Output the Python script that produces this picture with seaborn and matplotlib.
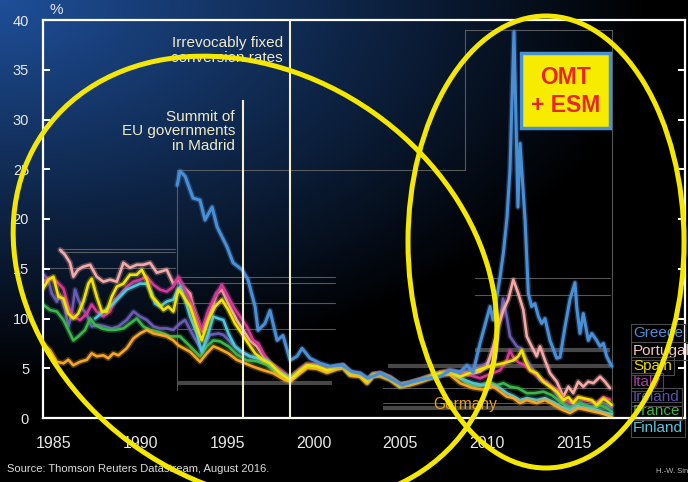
import numpy as np
import pandas as pd
import matplotlib
matplotlib.use("Agg")
import matplotlib.pyplot as plt
import matplotlib.patheffects as pe
from matplotlib.patches import Ellipse, Rectangle
import seaborn as sns

# 10-year government bond yields, %
greece_x = [1992.62, 1992.79, 1993.08, 1993.54, 1993.94, 1994.23, 1994.64, 1994.93, 1995.50, 1995.85,
            1996.37, 1996.71, 1997.12, 1997.29, 1997.69, 1997.98, 1998.39, 1998.73, 1999.14, 1999.54,
            1999.83, 2000.29, 2000.87, 2001.45, 2002.14, 2002.71, 2003.18, 2003.64, 2004.33, 2004.91,
            2005.60, 2006.24, 2007.04, 2007.79, 2008.37, 2008.95, 2009.35, 2009.70, 2010.10, 2010.68,
            2010.85, 2011.26, 2011.45, 2011.66, 2011.83, 2012.06, 2012.29, 2012.41, 2012.70, 2012.89,
            2013.08, 2013.27, 2013.47, 2013.66, 2013.85, 2014.14, 2014.53, 2014.72, 2015.01, 2015.29,
            2015.58, 2015.68, 2015.87, 2016.06, 2016.35, 2016.55, 2016.83, 2017.03, 2017.22, 2017.41,
            2017.70]
greece_y = [23.4, 24.8, 24.3, 22.1, 21.9, 19.9, 21.2, 19.2, 17.2, 15.6,
            14.9, 13.9, 11.2, 8.8, 9.5, 10.8, 7.8, 8.3, 5.8, 6.2,
            7.0, 6.0, 5.5, 5.2, 5.3, 4.65, 4.5, 4.0, 4.5, 4.0,
            3.3, 3.65, 4.0, 4.15, 4.8, 4.6, 5.3, 4.6, 7.5, 11.2,
            9.85, 14.2, 16.6, 20.2, 25.0, 38.8, 21.2, 27.6, 19.9, 12.5,
            11.2, 11.5, 10.2, 9.5, 10.0, 7.8, 6.0, 6.1, 9.2, 11.9,
            13.6, 11.2, 8.5, 10.5, 7.8, 8.5, 7.8, 7.2, 7.5, 6.2,
            5.2]

portugal_x = [1985.87, 1986.15, 1986.44, 1986.63, 1986.90, 1987.19, 1987.60, 1987.98, 1988.36, 1988.75,
              1989.14, 1989.52, 1989.90, 1990.29, 1990.67, 1991.06, 1991.45, 1992.02, 1992.40, 1992.69,
              1992.96, 1993.37, 1993.54, 1993.94, 1994.12, 1994.52, 1994.91, 1995.20, 1995.58, 1996.06,
              1996.44, 1996.83, 1997.22, 1997.60, 1997.98, 1998.56, 1999.14, 1999.71, 2000.12, 2000.70,
              2001.27, 2001.85, 2002.20, 2002.60, 2003.18, 2003.58, 2003.93, 2004.33, 2004.91, 2005.48,
              2006.06, 2006.64, 2007.22, 2007.79, 2008.37, 2008.95, 2009.52, 2010.10, 2010.49, 2010.87,
              2011.16, 2011.45, 2011.73, 2012.02, 2012.31, 2012.60, 2012.80, 2013.08, 2013.37, 2013.56,
              2013.85, 2014.14, 2014.53, 2014.91, 2015.20, 2015.48, 2015.77, 2016.06, 2016.35, 2016.64,
              2017.03, 2017.31, 2017.60]
portugal_y = [16.9, 16.4, 15.6, 14.2, 14.9, 15.2, 15.4, 14.2, 13.7, 13.9,
              13.7, 15.6, 15.1, 15.4, 15.4, 15.6, 14.6, 14.9, 13.5, 13.9,
              13.2, 12.5, 11.2, 9.2, 8.7, 10.5, 12.5, 12.9, 11.5, 9.85,
              8.8, 7.8, 7.2, 6.2, 5.5, 4.8, 4.0, 4.9, 5.4, 5.3,
              4.9, 5.2, 5.3, 4.6, 4.4, 3.8, 4.4, 4.5, 4.1, 3.35,
              3.55, 3.85, 4.2, 4.55, 4.75, 4.5, 4.4, 4.65, 5.15, 7.2,
              9.2, 10.85, 11.9, 13.9, 12.5, 10.85, 8.2, 7.2, 6.2, 7.2,
              5.8, 4.5, 3.65, 2.15, 3.15, 2.5, 3.65, 3.15, 3.65, 3.5,
              4.15, 3.65, 3.0]

spain_x = [1984.88, 1985.19, 1985.48, 1985.77, 1986.06, 1986.34, 1986.63, 1986.92, 1987.21, 1987.50,
           1987.69, 1987.98, 1988.27, 1988.56, 1988.85, 1989.14, 1989.52, 1989.90, 1990.29, 1990.58,
           1990.87, 1991.16, 1991.45, 1991.83, 1992.11, 1992.40, 1992.69, 1992.89, 1993.37, 1993.75,
           1994.04, 1994.42, 1994.81, 1995.20, 1995.58, 1995.96, 1996.35, 1996.73, 1997.12, 1997.60,
           1997.98, 1998.56, 1999.14, 1999.71, 2000.12, 2000.70, 2001.27, 2001.85, 2002.20, 2002.60,
           2003.18, 2003.58, 2003.93, 2004.33, 2004.91, 2005.48, 2006.06, 2006.64, 2007.22, 2007.79,
           2008.37, 2008.95, 2009.91, 2010.87, 2011.45, 2012.02, 2012.31, 2012.51, 2012.70, 2012.99,
           2013.37, 2013.75, 2014.14, 2014.53, 2014.91, 2015.20, 2015.48, 2015.77, 2016.16, 2016.55,
           2016.83, 2017.22, 2017.51, 2017.70]
spain_y = [13.0, 13.9, 14.2, 12.2, 12.0, 10.5, 10.0, 10.5, 11.7, 13.5,
           14.0, 12.2, 10.7, 10.7, 12.2, 13.2, 13.5, 14.4, 14.4, 14.9,
           13.9, 12.2, 11.7, 10.85, 11.2, 10.7, 12.9, 12.5, 11.2, 9.2,
           7.8, 9.85, 11.2, 11.9, 10.85, 9.5, 8.5, 7.5, 6.5, 5.8,
           5.5, 4.5, 3.8, 4.75, 5.3, 5.2, 4.8, 5.15, 5.25, 4.5,
           4.35, 3.7, 4.35, 4.45, 4.0, 3.3, 3.5, 3.8, 4.15, 4.5,
           4.6, 4.15, 4.8, 5.3, 5.5, 5.8, 6.2, 6.8, 5.8, 4.8,
           4.5, 3.65, 3.15, 2.65, 1.8, 2.1, 1.5, 2.1, 1.95, 1.8,
           1.3, 1.95, 1.6, 1.3]

italy_x = [1984.88, 1985.29, 1985.68, 1986.06, 1986.34, 1986.63, 1987.02, 1987.41, 1987.69, 1987.98,
           1988.36, 1988.75, 1989.04, 1989.33, 1989.71, 1990.10, 1990.48, 1990.87, 1991.25, 1991.64,
           1992.02, 1992.40, 1992.69, 1992.96, 1993.37, 1993.66, 1994.04, 1994.42, 1994.81, 1995.20,
           1995.48, 1995.87, 1996.25, 1996.64, 1997.02, 1997.31, 1997.60, 1997.98, 1998.56, 1999.14,
           1999.71, 2000.12, 2000.70, 2001.27, 2001.85, 2002.20, 2002.60, 2003.18, 2003.58, 2003.93,
           2004.33, 2004.91, 2005.48, 2006.06, 2006.64, 2007.22, 2007.79, 2008.37, 2008.95, 2009.52,
           2010.10, 2010.68, 2011.26, 2011.64, 2011.83, 2012.02, 2012.31, 2012.70, 2013.08, 2013.47,
           2013.95, 2014.53, 2014.91, 2015.39, 2015.77, 2016.16, 2016.83, 2017.22, 2017.60]
italy_y = [13.8, 14.0, 13.7, 13.0, 11.2, 10.2, 9.85, 10.5, 11.4, 10.7,
           10.2, 10.7, 11.9, 12.4, 13.2, 13.7, 13.9, 14.2, 13.4, 12.9,
           12.7, 13.2, 14.2, 13.2, 11.9, 10.5, 8.85, 10.85, 12.2, 13.4,
           12.5, 11.2, 10.2, 9.2, 7.8, 7.5, 6.5, 5.5, 4.8, 4.0,
           4.85, 5.4, 5.3, 4.9, 5.2, 5.3, 4.55, 4.4, 3.75, 4.4,
           4.5, 4.05, 3.35, 3.55, 3.85, 4.2, 4.55, 4.75, 4.5, 4.3,
           4.0, 4.4, 4.8, 5.8, 6.8, 6.1, 5.6, 5.3, 4.65, 4.15,
           3.5, 2.85, 1.85, 1.5, 2.1, 1.8, 1.5, 2.1, 1.85]

ireland_x = [1984.88, 1985.19, 1985.39, 1985.68, 1985.87, 1986.15, 1986.34, 1986.54, 1986.73, 1986.92,
             1987.21, 1987.41, 1987.69, 1988.08, 1988.46, 1988.85, 1989.23, 1989.71, 1990.10, 1990.48,
             1990.87, 1991.25, 1991.64, 1992.02, 1992.40, 1992.79, 1993.08, 1993.57, 1994.04, 1994.52,
             1995.00, 1995.29, 1995.77, 1996.25, 1996.83, 1997.41, 1997.98, 1998.56, 1999.14, 1999.71,
             2000.12, 2000.70, 2001.27, 2001.85, 2002.20, 2002.60, 2003.18, 2003.58, 2003.93, 2004.33,
             2004.91, 2005.48, 2006.06, 2006.64, 2007.22, 2007.79, 2008.37, 2008.95, 2009.81, 2010.50,
             2010.85, 2011.14, 2011.43, 2011.66, 2011.83, 2012.22, 2012.47, 2012.80, 2013.18, 2013.56,
             2013.95, 2014.33, 2014.72, 2015.10, 2015.39, 2015.87, 2016.16, 2016.64, 2017.03, 2017.41,
             2017.70]
ireland_y = [14.5, 13.9, 12.5, 11.7, 12.4, 10.85, 9.2, 10.5, 12.9, 11.9,
             10.85, 10.4, 9.2, 9.35, 9.2, 9.0, 9.2, 9.85, 10.7, 10.2,
             9.85, 9.2, 9.0, 9.0, 8.85, 9.5, 9.85, 8.2, 6.8, 8.35,
             8.5, 8.35, 7.5, 6.65, 6.2, 5.85, 5.15, 4.5, 4.0, 4.7,
             5.25, 5.15, 4.75, 5.1, 5.2, 4.45, 4.35, 3.65, 4.35, 4.4,
             4.0, 3.3, 3.5, 3.8, 4.15, 4.5, 4.7, 4.6, 5.0, 5.5,
             6.5, 8.5, 12.0, 10.0, 8.2, 7.2, 7.0, 5.85, 4.8, 3.8,
             3.65, 2.85, 1.85, 1.3, 1.15, 1.65, 1.3, 1.15, 1.65, 1.3,
             1.0]

france_x = [1984.88, 1985.29, 1985.68, 1986.06, 1986.34, 1986.63, 1986.92, 1987.31, 1987.60, 1987.89,
            1988.27, 1988.65, 1989.04, 1989.52, 1989.90, 1990.29, 1990.67, 1991.06, 1991.45, 1991.83,
            1992.21, 1992.60, 1992.79, 1993.37, 1993.94, 1994.33, 1994.71, 1995.10, 1995.58, 1996.06,
            1996.64, 1997.22, 1997.79, 1998.37, 1999.04, 1999.71, 2000.12, 2000.70, 2001.27, 2001.85,
            2002.20, 2002.60, 2003.18, 2003.58, 2003.93, 2004.33, 2004.91, 2005.48, 2006.06, 2006.64,
            2007.22, 2007.79, 2008.37, 2008.95, 2009.52, 2010.10, 2010.58, 2011.06, 2011.45, 2011.83,
            2012.31, 2012.80, 2013.27, 2013.75, 2014.24, 2014.72, 2015.10, 2015.48, 2015.87, 2016.35,
            2016.64, 2017.03, 2017.41, 2017.70]
france_y = [11.4, 10.85, 10.7, 9.85, 8.85, 7.8, 8.2, 8.85, 10.0, 9.35,
            9.0, 8.85, 8.85, 9.0, 9.5, 10.0, 9.2, 8.85, 8.7, 8.5,
            8.2, 8.2, 8.2, 7.2, 6.2, 7.2, 7.8, 7.7, 7.2, 6.4,
            5.8, 5.7, 5.35, 4.5, 4.0, 4.65, 5.2, 5.1, 4.7, 5.05,
            5.15, 4.4, 4.3, 3.6, 4.3, 4.35, 3.95, 3.25, 3.45, 3.75,
            4.1, 4.45, 4.55, 4.0, 3.3, 3.2, 3.65, 3.3, 3.5, 3.15,
            3.0, 2.5, 2.5, 2.65, 2.3, 1.65, 1.15, 1.0, 1.5, 1.15,
            1.0, 1.3, 1.0, 0.65]

finland_x = [1987.89, 1988.94, 1989.71, 1990.48, 1990.87, 1991.16, 1991.35, 1991.64, 1992.02, 1992.40,
             1992.69, 1992.79, 1993.08, 1993.37, 1993.75, 1994.04, 1994.42, 1994.71, 1995.00, 1995.29,
             1995.58, 1995.96, 1996.35, 1996.83, 1997.31, 1997.79, 1998.37, 1998.95, 1999.14, 1999.71,
             2000.12, 2000.70, 2001.27, 2001.85, 2002.20, 2002.60, 2003.18, 2003.58, 2003.93, 2004.33,
             2004.91, 2005.48, 2006.06, 2006.64, 2007.22, 2007.79, 2008.37, 2008.95, 2009.70, 2010.29,
             2010.87, 2011.26, 2011.64, 2012.02, 2012.41, 2012.80, 2013.37, 2013.85, 2014.33, 2014.82,
             2015.29, 2015.77, 2016.16, 2016.64, 2017.03, 2017.41, 2017.70]
finland_y = [10.0, 11.5, 12.9, 13.5, 13.5, 12.5, 11.5, 11.2, 11.7, 11.9,
             13.0, 13.2, 11.9, 10.2, 8.5, 6.65, 8.5, 10.2, 10.0, 9.85,
             8.5, 7.2, 6.65, 6.2, 6.0, 5.8, 4.8, 4.15, 3.9, 4.6,
             5.15, 5.05, 4.65, 5.0, 5.1, 4.35, 4.25, 3.55, 4.25, 4.3,
             3.9, 3.2, 3.4, 3.7, 4.05, 4.4, 4.5, 4.0, 3.5, 3.3,
             3.3, 3.0, 2.5, 2.2, 1.8, 2.0, 1.8, 2.0, 1.6, 1.1,
             0.8, 1.2, 1.0, 0.9, 0.7, 0.5, 0.4]

germany_x = [1984.88, 1985.29, 1985.68, 1986.06, 1986.34, 1986.63, 1987.02, 1987.41, 1987.69, 1987.98,
             1988.36, 1988.65, 1988.94, 1989.23, 1989.71, 1990.10, 1990.48, 1990.87, 1991.25, 1991.64,
             1992.02, 1992.40, 1992.69, 1993.37, 1993.94, 1994.33, 1994.71, 1995.00, 1995.58, 1996.06,
             1996.54, 1997.02, 1997.60, 1998.17, 1998.85, 1999.14, 1999.71, 2000.12, 2000.70, 2001.27,
             2001.85, 2002.20, 2002.60, 2003.18, 2003.58, 2003.93, 2004.33, 2004.91, 2005.48, 2006.06,
             2006.64, 2007.22, 2007.79, 2008.37, 2008.95, 2009.70, 2010.29, 2010.87, 2011.26, 2011.64,
             2012.02, 2012.41, 2012.80, 2013.37, 2013.85, 2014.33, 2014.82, 2015.29, 2015.77, 2016.16,
             2016.64, 2017.03, 2017.41, 2017.70]
germany_y = [7.5, 6.8, 5.65, 5.5, 5.85, 5.3, 5.65, 5.85, 6.5, 6.2,
             6.3, 6.0, 6.5, 6.3, 7.0, 8.0, 8.5, 8.85, 8.5, 8.35,
             8.2, 7.8, 7.3, 6.65, 5.65, 6.5, 7.2, 7.0, 6.5, 5.85,
             5.5, 5.15, 4.8, 4.5, 3.8, 3.65, 4.5, 5.05, 4.95, 4.55,
             4.9, 5.0, 4.25, 4.15, 3.45, 4.15, 4.2, 3.8, 3.1, 3.3,
             3.6, 3.95, 4.3, 4.35, 3.5, 3.0, 2.85, 3.15, 2.65, 2.15,
             2.0, 1.5, 1.8, 1.5, 1.8, 1.35, 0.85, 0.5, 1.0, 0.85,
             0.65, 0.5, 0.3, 0.1]

countries = ["Ireland", "Portugal", "Italy", "France", "Finland", "Germany", "Spain", "Greece"]
series = {
    "Greece": (greece_x, greece_y), "Portugal": (portugal_x, portugal_y),
    "Spain": (spain_x, spain_y), "Italy": (italy_x, italy_y),
    "Ireland": (ireland_x, ireland_y), "France": (france_x, france_y),
    "Finland": (finland_x, finland_y), "Germany": (germany_x, germany_y),
}
colors = {"Greece": "#4a8fd6", "Portugal": "#f4a9a8", "Spain": "#f2e300", "Italy": "#d23a96",
          "Ireland": "#6a5cb4", "France": "#3cb54a", "Finland": "#4fc6d8", "Germany": "#f5a623"}
label_colors = {"Greece": "#4a8fd6", "Portugal": "#f2c6c6", "Spain": "#e8dc00", "Italy": "#a8409c",
                "Ireland": "#5852aa", "France": "#3cb54a", "Finland": "#58c6de"}
legend_order = ["Greece", "Portugal", "Spain", "Italy", "Ireland", "France", "Finland"]

madrid_year = 1996.43
euro_year = 1999.14

sns.set_theme(style="dark")
plt.rcParams['font.family'] = ['Liberation Sans', 'DejaVu Sans']

W, H = 688, 482
fig = plt.figure(figsize=(W / 100, H / 100), dpi=100)

# background: blue glow in the upper left fading to black
bg = fig.add_axes([0, 0, 1, 1], zorder=0)
yy, xx = np.mgrid[0:H, 0:W]
k = 1 - np.clip(np.sqrt((xx / 650.0) ** 2 + (yy / 380.0) ** 2), 0, 1)
bg.imshow(np.dstack([0.12 * k, 0.31 * k, 0.60 * k]), extent=[0, W, H, 0], aspect='auto')
bg.set_xlim(0, W); bg.set_ylim(H, 0); bg.axis('off')

# faint grey leftovers of the pasted chart frames
art = fig.add_axes([0, 0, 1, 1], zorder=1)
art.patch.set_alpha(0)
art.set_xlim(0, W); art.set_ylim(H, 0); art.axis('off')
thin = dict(color='#6b6b6b', lw=0.8, alpha=0.8)
for y0, x0, x1 in [(249, 60, 175), (252, 60, 175), (268, 42, 175), (277, 178, 335), (283, 178, 335),
                   (303, 178, 335), (329, 178, 335), (170, 177, 465), (30, 465, 612),
                   (278, 475, 610), (295, 475, 610), (388, 383, 610), (403, 383, 610)]:
    art.plot([x0, x1], [y0, y0], **thin)
for x0, y0, y1 in [(177, 170, 390), (465, 30, 170), (612, 30, 418)]:
    art.plot([x0, x0], [y0, y1], **thin)
thick = dict(color='#505050', lw=3, alpha=0.9, solid_capstyle='butt')
for y0, x0, x1 in [(383, 178, 332), (350, 475, 610), (366, 388, 610), (408, 383, 610)]:
    art.plot([x0, x1], [y0, y0], **thick)

# main chart
ax = fig.add_axes([43 / W, 64 / H, 642 / W, 398 / H], zorder=2)
ax.patch.set_alpha(0)
ax.grid(False)
for name in countries:
    xs, ys = series[name]
    df = pd.DataFrame({"year": xs, "yield": ys})
    c = colors[name]
    sns.lineplot(data=df, x="year", y="yield", color=c, lw=2.2 if name == "Greece" else 1.9,
                 estimator=None, sort=False, legend=False, ax=ax)
    ax.lines[-1].set_path_effects([pe.Stroke(linewidth=4.2, foreground=c, alpha=0.3), pe.Normal()])

ax.vlines(madrid_year, 0, 32.0, color='#f3efcf', lw=1.5, zorder=5)
ax.vlines(euro_year, 0, 40, color='#f3efcf', lw=1.5, zorder=5)

ax.set_xlim(1984.88, 2021.93)
ax.set_ylim(0, 40)
ax.set_xlabel("")
ax.set_ylabel("")
for s in ax.spines.values():
    s.set_visible(True)
    s.set_color('white')
    s.set_linewidth(1.6)

ax.set_yticks(range(0, 41, 5))
ax.tick_params(axis='y', direction='in', length=5, width=1.4, color='white', labelcolor='#e6e6e6',
               labelsize=10.5, pad=10, right=True, left=True, labelright=False)
ax.set_xticks(np.arange(1985, 2022))
ax.set_xticklabels([])
ax.set_xticks(np.arange(1985.5, 2016, 5), minor=True)
ax.set_xticklabels([str(y) for y in range(1985, 2016, 5)], minor=True)
ax.tick_params(axis='x', which='major', direction='in', length=4, width=1.2, color='white', top=False)
ax.tick_params(axis='x', which='minor', length=0, labelsize=11.5, labelcolor='#e6e6e6', pad=13)

# texts and labels in pixel coordinates
ov = fig.add_axes([0, 0, 1, 1], zorder=3)
ov.patch.set_alpha(0)
ov.set_xlim(0, W); ov.set_ylim(H, 0); ov.axis('off')

ov.text(50, 14, "%", fontsize=11, color='#e6e6e6', va='baseline')
ov.text(283, 62, "Irrevocably fixed\nconversion rates", fontsize=11, color='#eeeacb',
        ha='right', va='baseline', linespacing=1.05, multialignment='right')
ov.text(235, 150, "Summit of\nEU governments\nin Madrid", fontsize=11, color='#eeeacb',
        ha='right', va='baseline', linespacing=1.05, multialignment='right')

baselines = [337, 355, 370, 386, 401, 415, 432]
for name, yb in zip(legend_order, baselines):
    ov.text(633, yb, name, fontsize=11, color=label_colors[name], va='baseline', ha='left',
            bbox=dict(boxstyle='square,pad=0.12', fc='none', ec='#4a4a4a', lw=0.8))
ov.text(433, 409, "Germany", fontsize=11.2, color='#e8a317', va='baseline', ha='left')

ov.text(7, 472, "Source: Thomson Reuters Datastream, August 2016.", fontsize=8, color='#dcdcdc',
        va='baseline')
ov.text(656, 473, "H.-W. Sinn", fontsize=5.5, color='#bbbbbb', va='baseline')

# OMT box and the yellow highlight ellipses
top = fig.add_axes([0, 0, 1, 1], zorder=4)
top.patch.set_alpha(0)
top.set_xlim(0, W); top.set_ylim(H, 0); top.axis('off')
top.add_patch(Rectangle((521, 53), 89, 75, fc='#f7ec00', ec='#4a8fd0', lw=2.5))
top.text(565.5, 78, "OMT", fontsize=16.5, fontweight='bold', color='#e8262a', ha='center', va='center')
top.text(565.5, 106, "+ ESM", fontsize=16.5, fontweight='bold', color='#e8262a', ha='center', va='center')
top.add_patch(Ellipse((255, 280), 516, 410, angle=35, fc='none', ec='#f5e800', lw=3.6))
top.add_patch(Ellipse((546, 242), 276, 452, angle=0, fc='none', ec='#f5e800', lw=3.6))

fig.savefig("out.png", dpi=100)
